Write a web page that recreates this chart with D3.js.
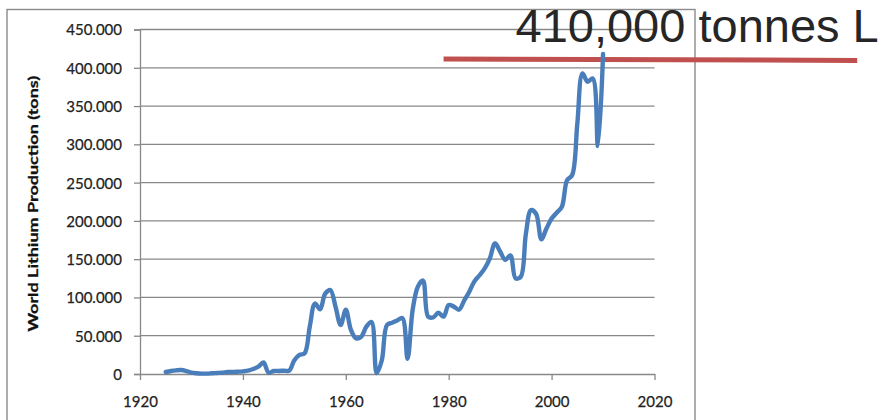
<!DOCTYPE html>
<html>
<head>
<meta charset="utf-8">
<script src="https://cdn.jsdelivr.net/npm/d3@7"></script>
<style>
  html, body { margin: 0; padding: 0; background: #ffffff; }
  svg { display: block; }
</style>
</head>
<body>
<svg id="chart" width="887" height="420"></svg>
<script>
// World lithium production, tons per year
const years = d3.range(1925, 2011);
const production = [
  2600, 3900, 4800, 5200, 3900, 1700, 900, 500, 500, 900,      // 1925-1934
  1300, 1700, 2600, 2600, 3000, 3500, 4300, 6500, 9500, 15000, // 1935-1944
  1700, 3900, 4000, 4300, 4500, 18000, 25000, 27000, 62000, 92000, // 1945-1954
  84500, 105000, 109700, 88000, 64000, 84000, 57500, 46600, 48700, 61800, // 1955-1964
  68000, 1200, 18000, 64000, 67000, 70000, 73000, 20000, 84000, 114000, // 1965-1974
  122000, 75000, 74000, 80000, 75000, 90000, 88000, 84000, 95700, 107500, // 1975-1984
  121000, 129000, 138000, 151000, 170700, 160000, 149000, 155000, 125000, 127000, // 1985-1994
  183000, 214000, 209000, 176000, 190000, 203000, 210700, 218500, 253000, 260000, // 1995-2004
  327000, 392700, 381800, 386000, 297800, 418000                 // 2005-2010
];

const yTicks = d3.range(0, 450001, 50000);
const xTicks = d3.range(1920, 2021, 20);
const yTitle = "World Lithium Production  (tons)";

// Highlighted production level and its caption
const markLevel = 410000;
const markSpan = [1979.0, 2059.4];
const markCaption = "410,000 tonnes L";

const svg = d3.select("#chart");
const gridColor = "#888888";

const x = d3.scaleLinear().domain([1920, 2020]).range([140, 654.5]);
const y = d3.scaleLinear().domain([0, 450000]).range([374, 29.5]);

// Outer chart frame
svg.append("rect")
  .attr("x", 7).attr("y", 9.5)
  .attr("width", 688).attr("height", 440)
  .attr("fill", "none")
  .attr("stroke", "#8a8a8a")
  .attr("stroke-width", 1.4);

// Horizontal gridlines
svg.append("g")
  .selectAll("line")
  .data(yTicks.filter(d => d > 0))
  .join("line")
  .attr("x1", x(1920)).attr("x2", x(2020))
  .attr("y1", d => y(d)).attr("y2", d => y(d))
  .attr("stroke", gridColor)
  .attr("stroke-width", 1.3);

// Y axis
const fmt = d => d === 0 ? "0" : d3.format(",")(d).replace(/,/g, ".");
const yAxis = svg.append("g")
  .attr("transform", `translate(${x(1920)},0)`)
  .call(d3.axisLeft(y).tickValues(yTicks).tickFormat(fmt).tickSize(6).tickPadding(12));
yAxis.select(".domain").attr("stroke", gridColor).attr("stroke-width", 1.3);
yAxis.selectAll(".tick line").attr("stroke", gridColor).attr("stroke-width", 1.3);
yAxis.selectAll(".tick text")
  .attr("font-family", "Lato, 'Open Sans', sans-serif")
  .attr("font-size", 15)
  .attr("fill", "#222222")
  .attr("stroke", "#222222")
  .attr("stroke-width", 0.25)
  .attr("dy", "0.36em");

// X axis
const xAxis = svg.append("g")
  .attr("transform", `translate(0,${y(0)})`)
  .call(d3.axisBottom(x).tickValues(xTicks).tickFormat(d3.format("d")).tickSize(6).tickSizeOuter(0));
xAxis.select(".domain").attr("stroke", gridColor).attr("stroke-width", 1.3);
xAxis.selectAll(".tick line").attr("stroke", gridColor).attr("stroke-width", 1.3);
xAxis.selectAll(".tick text")
  .attr("font-family", "Lato, 'Open Sans', sans-serif")
  .attr("font-size", 15)
  .attr("fill", "#222222")
  .attr("stroke", "#222222")
  .attr("stroke-width", 0.25)
  .attr("y", 33).attr("dy", null);

// Y axis title
svg.append("text")
  .attr("transform", `translate(38,${(y(450000) + y(0)) / 2 + 2}) rotate(-90)`)
  .attr("text-anchor", "middle")
  .attr("font-family", "Lato, 'Open Sans', sans-serif")
  .attr("font-weight", "bold")
  .attr("font-size", 14)
  .attr("fill", "#111111")
  .attr("stroke", "#111111")
  .attr("stroke-width", 0.3)
  .attr("textLength", 256)
  .attr("lengthAdjust", "spacingAndGlyphs")
  .text(yTitle);

// Highlight line at the stated production level
svg.append("line")
  .attr("x1", x(markSpan[0])).attr("x2", x(markSpan[1]))
  .attr("y1", y(markLevel) - 1.2).attr("y2", y(markLevel) + 0.3)
  .attr("stroke", "#c0504d")
  .attr("stroke-width", 5);

// Production series
const line = d3.line()
  .x((d, i) => x(years[i]))
  .y(d => y(d))
  .curve(d3.curveCatmullRom.alpha(0.5));

svg.append("path")
  .datum(production)
  .attr("d", line)
  .attr("fill", "none")
  .attr("stroke", "#4a7ebb")
  .attr("stroke-width", 4.4)
  .attr("stroke-linejoin", "round")
  .attr("stroke-linecap", "round");

// Caption
svg.append("text")
  .attr("x", 515.5)
  .attr("y", 41.7)
  .attr("font-family", "'Liberation Sans', Arial, sans-serif")
  .attr("font-size", 47)
  .attr("fill", "#262626")
  .text(markCaption);
</script>
</body>
</html>
